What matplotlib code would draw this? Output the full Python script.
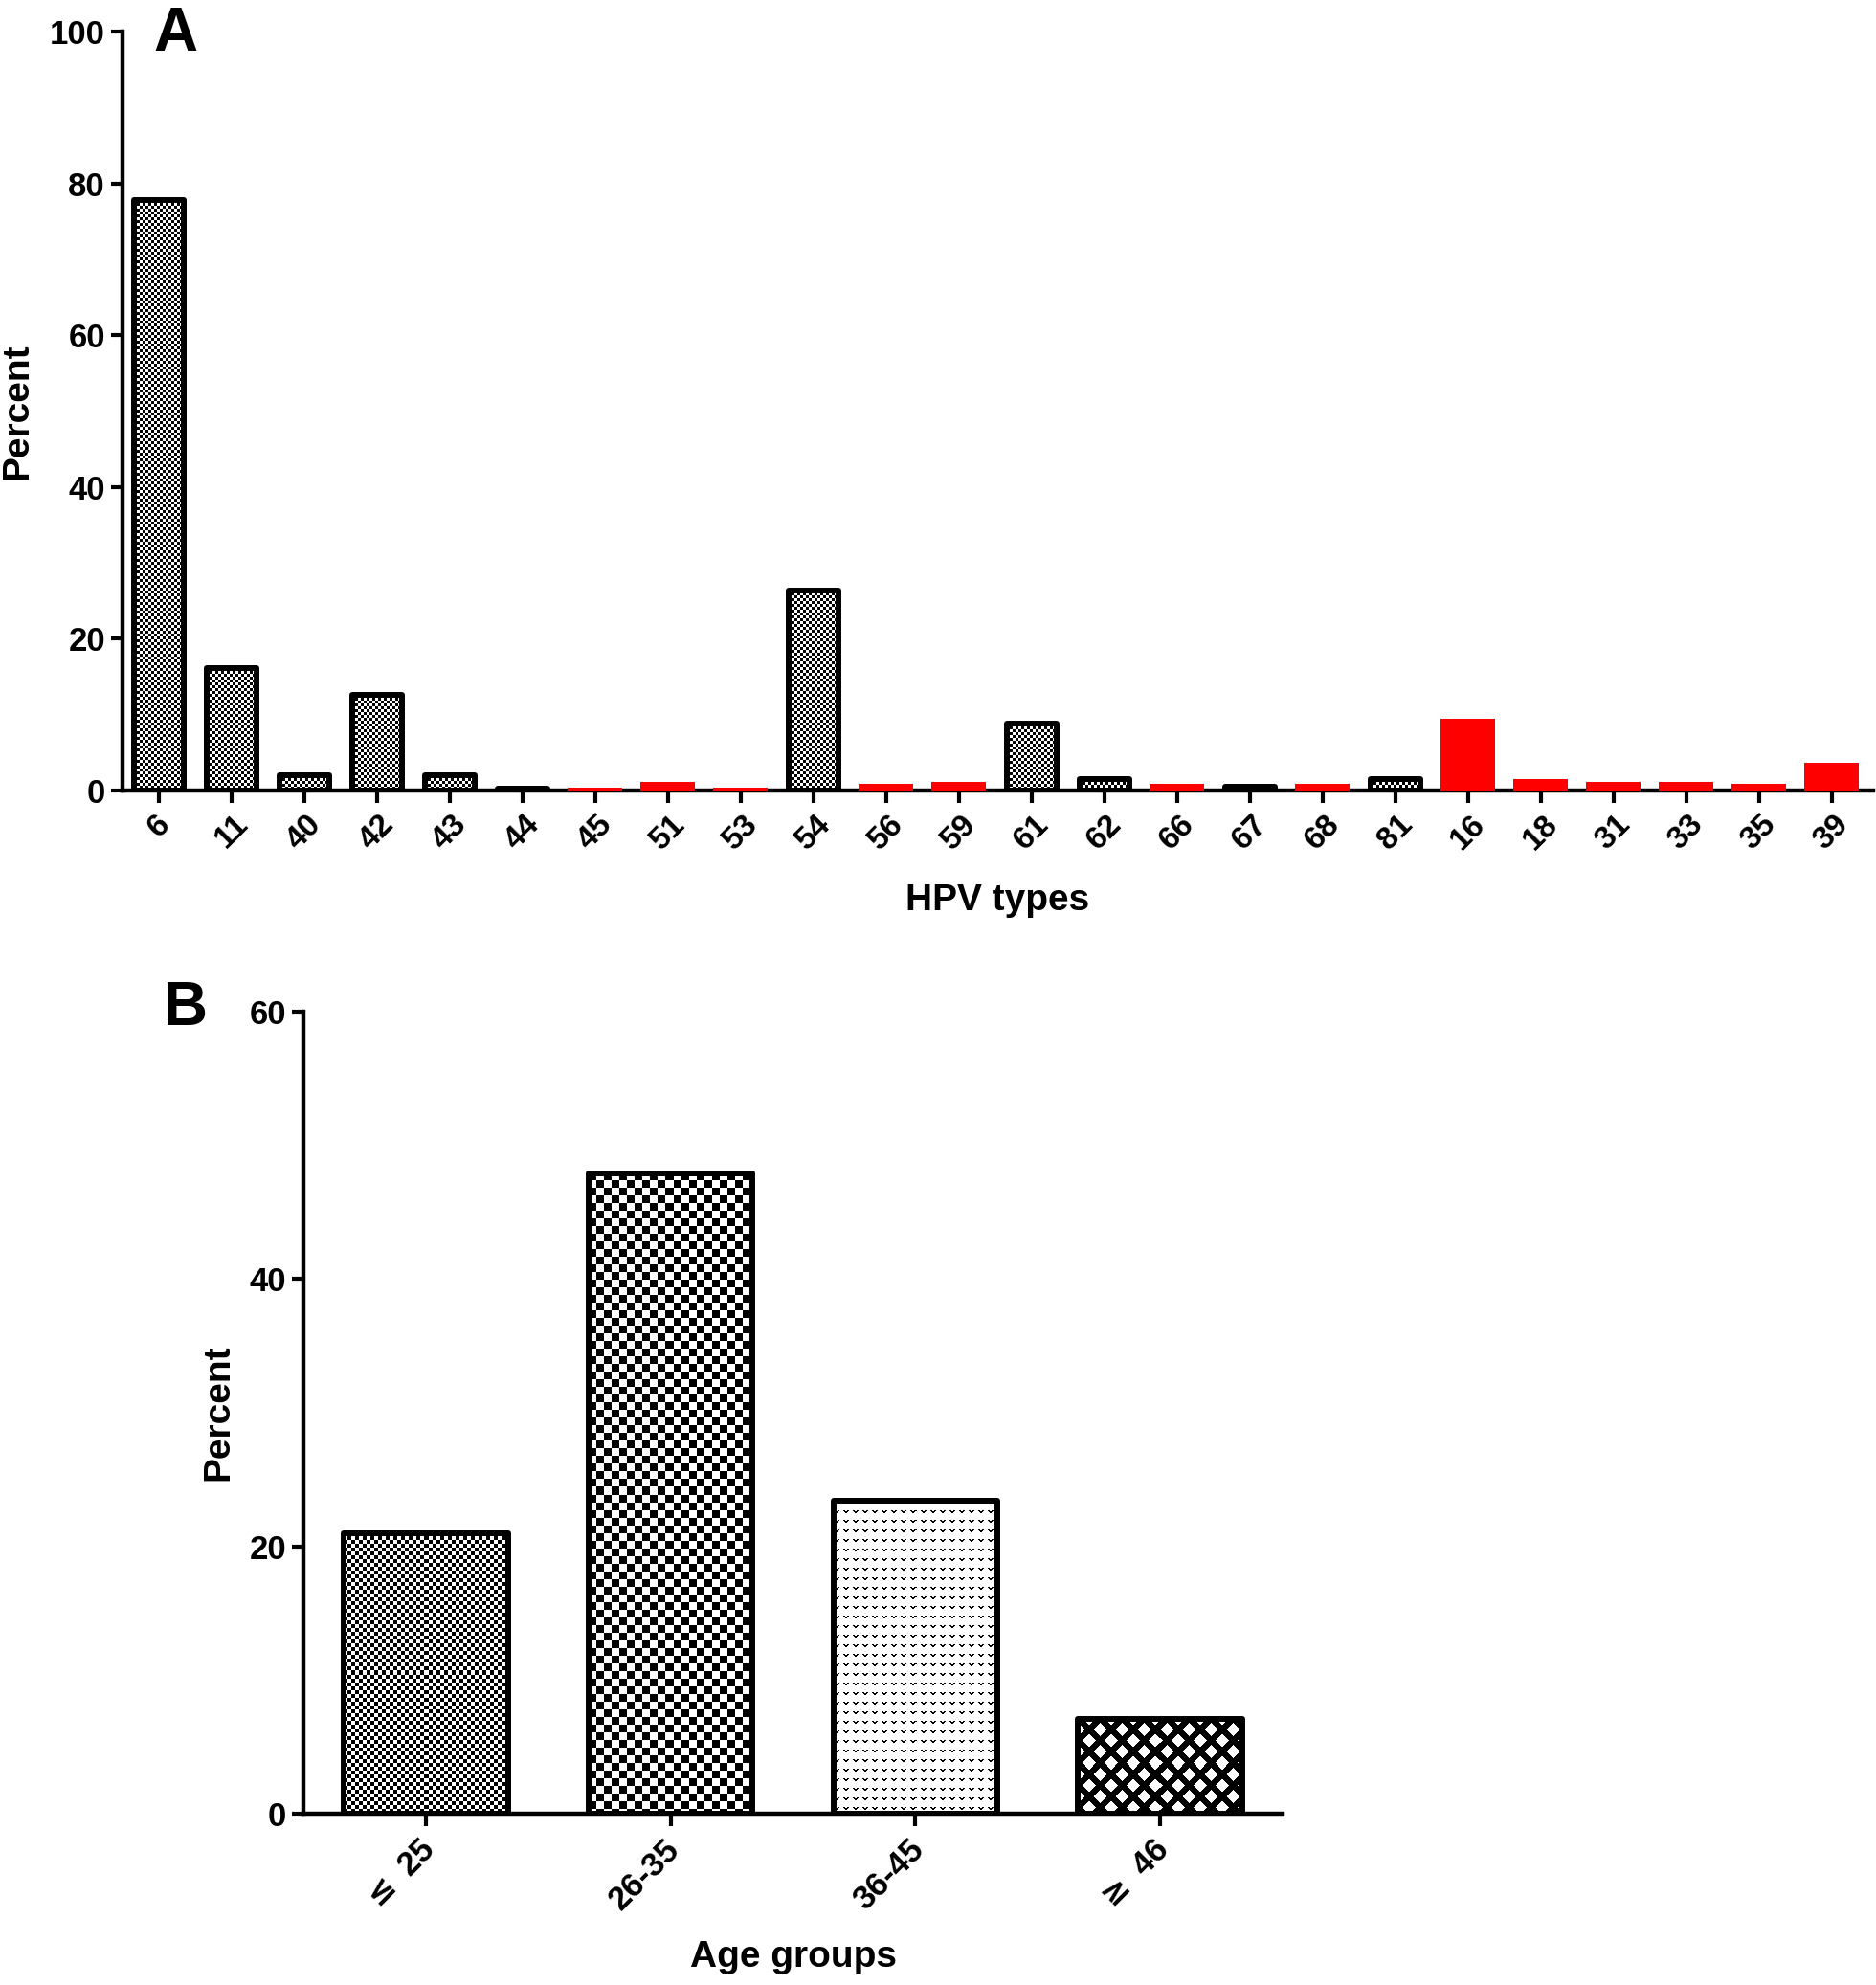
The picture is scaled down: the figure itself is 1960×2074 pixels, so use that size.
import numpy as np
import matplotlib.pyplot as plt
import matplotlib.transforms as mtransforms

plt.rcParams['font.family'] = ['Liberation Sans', 'DejaVu Sans']
plt.rcParams['font.weight'] = 'bold'

# panel A: HPV type distribution
hpv_types = ['6', '11', '40', '42', '43', '44', '45', '51', '53', '54', '56', '59',
             '61', '62', '66', '67', '68', '81', '16', '18', '31', '33', '35', '39']
hpv_percent = [77.8, 16.1, 2.0, 12.6, 2.0, 0.3, 0.4, 1.1, 0.4, 26.4, 0.9, 1.1,
               8.8, 1.5, 0.9, 0.5, 0.9, 1.5, 9.4, 1.5, 1.1, 1.1, 0.9, 3.6]
high_risk = [False, False, False, False, False, False, True, True, True, False, True, True,
             False, False, True, False, True, False, True, True, True, True, True, True]

# panel B: age groups
age_groups = [r'$\leq$ 25', '26-35', '36-45', r'$\geq$ 46']
age_percent = [21.0, 47.9, 23.4, 7.1]
age_patterns = ['check4', 'check8', 'vdots', 'diamond']


def texture(kind, w, h):
    yy, xx = np.mgrid[0:h, 0:w]
    if kind.startswith('check'):
        c = int(kind[5:])
        dark = (xx // c + yy // c) % 2 == 0
    elif kind == 'vdots':
        px, py = xx % 10, yy % 10
        dark = (((py == 0) & np.isin(px, [0, 1, 4, 5])) |
                ((py == 1) & np.isin(px, [1, 2, 3, 4])) |
                ((py == 2) & np.isin(px, [2, 3])))
    else:  # diamond lattice
        P, a = 23, 5
        u = (xx + yy) % P
        v = (xx - yy) % P
        dark = (np.minimum(u, P - u) < a) | (np.minimum(v, P - v) < a)
    return np.where(dark, 0.0, 1.0)


def fill_bar(ax, bar, kind):
    ext = bar.get_window_extent()
    w, h = max(int(round(ext.width)), 1), max(int(round(ext.height)), 1)
    x0 = bar.get_x()
    img = ax.imshow(texture(kind, w, h), cmap='gray', vmin=0, vmax=1,
                    extent=(x0, x0 + bar.get_width(), bar.get_y(), bar.get_y() + bar.get_height()),
                    aspect='auto', interpolation='nearest', zorder=2)
    img.set_clip_path(bar)


def style(ax):
    for s in ['top', 'right']:
        ax.spines[s].set_visible(False)
    for s in ['left', 'bottom']:
        ax.spines[s].set_linewidth(3.2)
    ax.tick_params(width=3, length=9, direction='out')


W, H = 1960, 2074
fig = plt.figure(figsize=(19.6, 20.74), dpi=100)

# ---- A
axA = fig.add_axes([128 / W, 1 - 826 / H, (1957 - 128) / W, (826 - 33) / H])
style(axA)
x = np.arange(len(hpv_types))
axA.set_xlim(-0.5, 23.57)
axA.set_ylim(0, 100)
face = ['#FF0000' if r else 'none' for r in high_risk]
edge = ['none' if r else 'black' for r in high_risk]
widths = [0.75 if r else 0.68 for r in high_risk]
barsA = axA.bar(x, hpv_percent, width=widths, color=face, edgecolor=edge,
                linewidth=4.3, joinstyle='round', zorder=3)
for b, r in zip(barsA, high_risk):
    if not r:
        fill_bar(axA, b, 'check3')
axA.set_xlim(-0.5, 23.57)
axA.set_ylim(0, 100)
axA.set_yticks([0, 20, 40, 60, 80, 100])
axA.tick_params(axis='y', labelsize=25, pad=4)
axA.set_xticks(x, hpv_types, rotation=45, ha='center')
axA.tick_params(axis='x', labelsize=24, pad=5)
axA.set_ylabel('Percent', fontsize=28, fontweight='bold')
axA.yaxis.set_label_coords(-0.050, 0.5)
axA.set_xlabel('HPV types', fontsize=28, fontweight='bold')
axA.xaxis.set_label_coords(0.5, -0.122)

# ---- B
axB = fig.add_axes([317 / W, 1 - 1895 / H, (1340 - 317) / W, (1895 - 1057) / H])
style(axB)
xb = np.arange(len(age_groups))
axB.set_xlim(-0.5, 3.5)
axB.set_ylim(0, 60)
barsB = axB.bar(xb, age_percent, width=0.67, color='none', edgecolor='black',
                linewidth=4.3, joinstyle='round', zorder=3)
for b, k in zip(barsB, age_patterns):
    fill_bar(axB, b, k)
axB.set_xlim(-0.5, 3.5)
axB.set_ylim(0, 60)
axB.set_yticks([0, 20, 40, 60])
axB.tick_params(axis='y', labelsize=25, pad=4)
axB.set_xticks(xb, age_groups, rotation=45, ha='right')
axB.tick_params(axis='x', labelsize=25, pad=6)
shift = mtransforms.ScaledTranslation(0.16, 0, fig.dpi_scale_trans)
for lab in axB.get_xticklabels():
    lab.set_transform(lab.get_transform() + shift)
axB.set_ylabel('Percent', fontsize=28, fontweight='bold')
axB.yaxis.set_label_coords(-0.069, 0.5)
axB.set_xlabel('Age groups', fontsize=28, fontweight='bold')
axB.xaxis.set_label_coords(0.5, -0.158)

fig.text(183 / W, 1 - 53 / H, 'A', fontsize=46, fontweight='bold', ha='center', va='baseline')
fig.text(194 / W, 1 - 1071 / H, 'B', fontsize=46, fontweight='bold', ha='center', va='baseline')

fig.savefig('out.png', dpi=100)
